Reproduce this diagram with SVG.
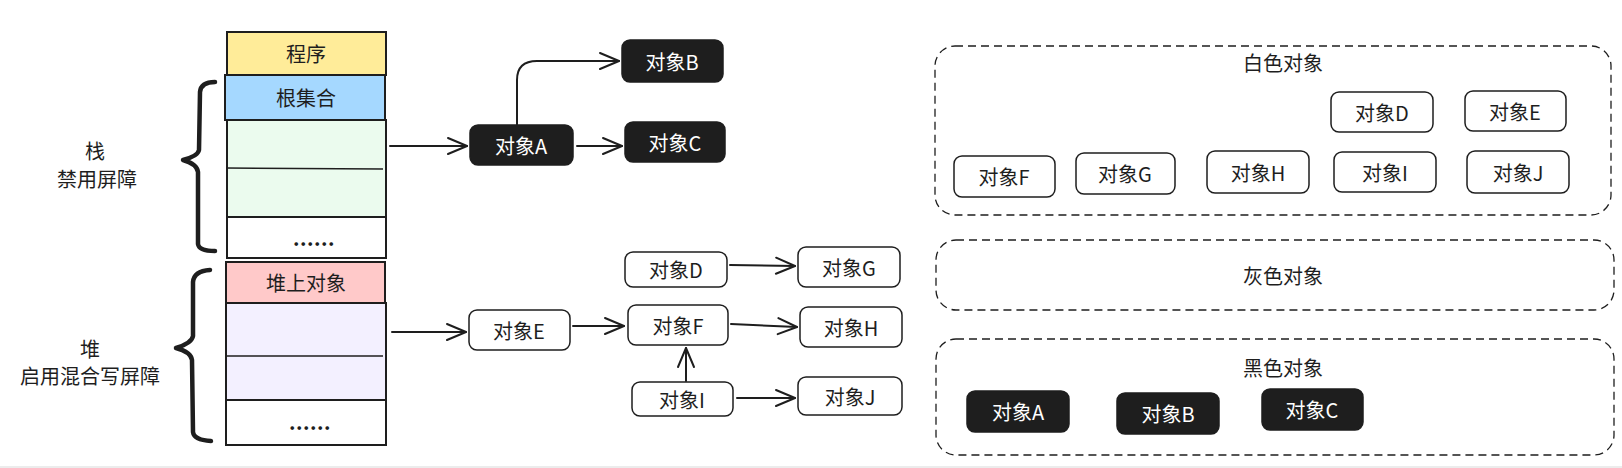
<svg xmlns="http://www.w3.org/2000/svg" width="1622" height="468" viewBox="0 0 1622 468">
<style>
text{font-family:"Noto Sans CJK SC","Noto Sans",sans-serif;font-size:20px;fill:#1e1e1e;text-anchor:middle;dominant-baseline:central}
.dots{font-weight:bold;letter-spacing:0.5px}
.cell{stroke:#1e1e1e;stroke-width:2}
.div{stroke:#1e1e1e;stroke-width:1.5;fill:none}
.brace{fill:none;stroke:#1e1e1e;stroke-width:4.5;stroke-linecap:round;stroke-linejoin:round}
.wn{fill:#fff;stroke:#1e1e1e;stroke-width:1.5}
.bn{fill:#1e1e1e;stroke:#1e1e1e;stroke-width:1.5}
.bt{fill:#fff}
.grp{fill:none;stroke:#1e1e1e;stroke-width:1.3;stroke-dasharray:8 5}
.conn{fill:none;stroke:#1e1e1e;stroke-width:2;stroke-linecap:round;marker-end:url(#ah)}
</style>
<defs>
<marker id="ah" viewBox="-22 -10 24 20" refX="0" refY="0" markerWidth="24" markerHeight="20" markerUnits="userSpaceOnUse" orient="auto">
<path d="M-19,-8 L0,0 L-19,8" fill="none" stroke="#1e1e1e" stroke-width="2" stroke-linecap="round" stroke-linejoin="round"/>
</marker>
</defs>
<rect x="0" y="466" width="1622" height="2" fill="#ececec"/>

<g id="stack">
<rect class="cell" x="227" y="32" width="159" height="43" fill="#ffec99"/>
<text x="306" y="53">程序</text>
<rect class="cell" x="225" y="75" width="160" height="45" fill="#a5d8ff"/>
<text x="306" y="97">根集合</text>
<rect class="cell" x="227" y="120" width="159" height="97" fill="#ebfbee"/>
<line class="div" x1="226" y1="168" x2="383" y2="169"/>
<rect class="cell" x="227" y="217" width="159" height="41" fill="#ffffff"/>
<text class="dots" x="314" y="237">......</text>
</g>

<g id="heap">
<rect class="cell" x="226" y="262" width="159" height="41" fill="#ffc9c9"/>
<text x="306" y="282">堆上对象</text>
<rect class="cell" x="226" y="303" width="160" height="97" fill="#f3f0ff"/>
<line class="div" x1="227" y1="356" x2="383" y2="356"/>
<rect class="cell" x="226" y="400" width="160" height="45" fill="#ffffff"/>
<text class="dots" x="310" y="421">......</text>
</g>

<g id="stack-brace">
<path class="brace" d="M215,82 Q201,82 200,92 L199,150 Q198,156 183,160 Q197,164 198,172 L198,244 Q199,251 215,251"/>
<text x="95" y="150">栈</text>
<text x="97" y="178">禁用屏障</text>
</g>

<g id="heap-brace">
<path class="brace" d="M210,270 Q194,271 193,282 L193,336 Q192,343 176,348 Q191,352 192,360 L193,432 Q194,440 211,441"/>
<text x="90" y="348">堆</text>
<text x="90" y="375">启用混合写屏障</text>
</g>

<g id="objA"><rect class="bn" x="470" y="125" width="103" height="40" rx="8"/><text class="bt" x="521" y="145">对象A</text></g>
<g id="objB"><rect class="bn" x="622" y="40" width="101" height="42" rx="8"/><text class="bt" x="672" y="61">对象B</text></g>
<g id="objC"><rect class="bn" x="625" y="122" width="100" height="40" rx="8"/><text class="bt" x="675" y="142">对象C</text></g>

<g id="objD"><rect class="wn" x="625" y="252" width="102" height="35" rx="8"/><text x="676" y="269">对象D</text></g>
<g id="objG"><rect class="wn" x="798" y="247" width="102" height="40" rx="8"/><text x="849" y="267">对象G</text></g>
<g id="objE"><rect class="wn" x="469" y="310" width="101" height="40" rx="8"/><text x="519" y="330">对象E</text></g>
<g id="objF"><rect class="wn" x="628" y="305" width="100" height="40" rx="8"/><text x="678" y="325">对象F</text></g>
<g id="objH"><rect class="wn" x="800" y="307" width="102" height="40" rx="8"/><text x="851" y="327">对象H</text></g>
<g id="objI"><rect class="wn" x="632" y="382" width="101" height="34" rx="8"/><text x="682" y="399">对象I</text></g>
<g id="objJ"><rect class="wn" x="798" y="377" width="104" height="38" rx="8"/><text x="850" y="396">对象J</text></g>

<g id="connectors">
<path class="conn" d="M390,146 L467,146"/>
<path class="conn" d="M517,125 L517,80 Q517,61 537,61 L619,61"/>
<path class="conn" d="M577,146 L622,146"/>
<path class="conn" d="M392,332 L466,332"/>
<path class="conn" d="M730,265 L795,266"/>
<path class="conn" d="M573,326 L624,326"/>
<path class="conn" d="M731,324 L797,327"/>
<path class="conn" d="M686,381 L686,348"/>
<path class="conn" d="M737,398 L795,398"/>
</g>

<g id="white-set">
<rect class="grp" x="935" y="46" width="676" height="169" rx="20"/>
<text x="1283" y="62">白色对象</text>
<g id="w-D"><rect class="wn" x="1331" y="92" width="102" height="40" rx="8"/><text x="1382" y="112">对象D</text></g>
<g id="w-E"><rect class="wn" x="1465" y="91" width="101" height="40" rx="8"/><text x="1515" y="111">对象E</text></g>
<g id="w-F"><rect class="wn" x="954" y="156" width="101" height="41" rx="8"/><text x="1004" y="176">对象F</text></g>
<g id="w-G"><rect class="wn" x="1076" y="153" width="99" height="41" rx="8"/><text x="1125" y="173">对象G</text></g>
<g id="w-H"><rect class="wn" x="1207" y="151" width="102" height="42" rx="8"/><text x="1258" y="172">对象H</text></g>
<g id="w-I"><rect class="wn" x="1334" y="152" width="102" height="40" rx="8"/><text x="1385" y="172">对象I</text></g>
<g id="w-J"><rect class="wn" x="1467" y="151" width="102" height="42" rx="8"/><text x="1518" y="172">对象J</text></g>
</g>

<g id="grey-set">
<rect class="grp" x="936" y="240" width="678" height="70" rx="20"/>
<text x="1283" y="275">灰色对象</text>
</g>

<g id="black-set">
<rect class="grp" x="936" y="339" width="678" height="116" rx="20"/>
<text x="1283" y="367">黑色对象</text>
<g id="b-A"><rect class="bn" x="967" y="391" width="102" height="41" rx="8"/><text class="bt" x="1018" y="411">对象A</text></g>
<g id="b-B"><rect class="bn" x="1117" y="393" width="102" height="41" rx="8"/><text class="bt" x="1168" y="413">对象B</text></g>
<g id="b-C"><rect class="bn" x="1262" y="389" width="101" height="41" rx="8"/><text class="bt" x="1312" y="409">对象C</text></g>
</g>
</svg>
